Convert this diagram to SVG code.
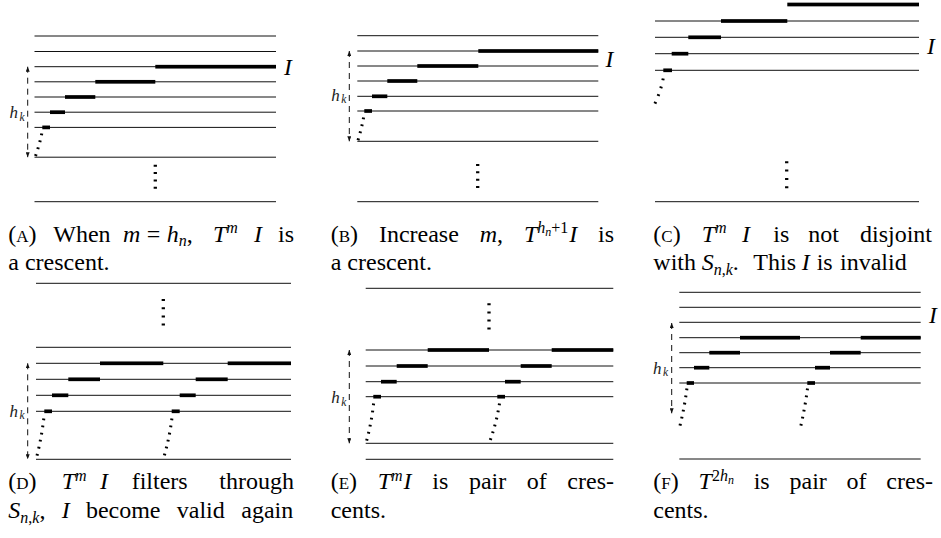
<svg xmlns="http://www.w3.org/2000/svg" width="941" height="538" viewBox="0 0 941 538" font-family="serif">
<defs>
<marker id="ah" viewBox="0 0 5 4" refX="5" refY="2" markerWidth="5" markerHeight="4" markerUnits="userSpaceOnUse" orient="auto-start-reverse">
<path d="M0,0 L5,2 L0,4 z" fill="#111"/>
</marker>
</defs>
<rect width="941" height="538" fill="#fff"/>

<g id="panel-a">
<g stroke="#111" stroke-width="1" fill="none">
<path d="M34.5,36H276M34.5,51.5H276M34.5,66.7H276M34.5,81.8H276M34.5,97H276M34.5,112.2H276M34.5,127.4H276M34.5,157.2H276M34.5,201.7H276"/>
</g>
<g fill="#000">
<rect x="155.3" y="64.85" width="120.7" height="3.7"/>
<rect x="95.3" y="79.95" width="60" height="3.7"/>
<rect x="65" y="95.15" width="30.3" height="3.7"/>
<rect x="50" y="110.35" width="15" height="3.7"/>
<rect x="42.3" y="125.55" width="7.7" height="3.7"/>
</g>
<path d="M155.3,164.7V189" stroke="#000" stroke-width="3.3" fill="none" stroke-dasharray="2 5.35"/>
<text font-family="serif" font-style="italic" fill="#222" y="118"><tspan font-size="17" x="9.5">h</tspan><tspan font-size="11.5" x="19.5" dy="2.5">k</tspan></text>
<text font-family="serif" font-style="italic" font-size="23.5" x="284" y="75">I</text>
</g>

<g id="panel-b">
<g stroke="#111" stroke-width="1" fill="none">
<path d="M357.3,35.7H598.3M357.3,51H598.3M357.3,66H598.3M357.3,81H598.3M357.3,96.3H598.3M357.3,111H598.3M357.3,141.3H598.3M357.3,201.7H598.3"/>
</g>
<g fill="#000">
<rect x="478.3" y="49.15" width="120" height="3.7"/>
<rect x="417.3" y="64.15" width="61" height="3.7"/>
<rect x="387.3" y="79.15" width="30" height="3.7"/>
<rect x="372" y="94.45" width="15.3" height="3.7"/>
<rect x="364.3" y="109.15" width="7.7" height="3.7"/>
</g>
<path d="M477.7,164V189" stroke="#000" stroke-width="3.3" fill="none" stroke-dasharray="2 5.35"/>
<text font-family="serif" font-style="italic" fill="#222" y="100.8"><tspan font-size="17" x="331.3">h</tspan><tspan font-size="11.5" x="341.3" dy="2.5">k</tspan></text>
<text font-family="serif" font-style="italic" font-size="23.5" x="605.5" y="66.7">I</text>
</g>

<g id="panel-c">
<g stroke="#111" stroke-width="1" fill="none">
<path d="M655,21H919M655,37.3H919M655,53.7H919M655,70.3H919M655,201.7H919"/>
</g>
<g fill="#000">
<rect x="787.3" y="2.65" width="131.7" height="3.7"/>
<rect x="721" y="19.15" width="66.3" height="3.7"/>
<rect x="688.3" y="35.45" width="32.7" height="3.7"/>
<rect x="671.7" y="51.85" width="16.6" height="3.7"/>
<rect x="663.3" y="68.45" width="8.7" height="3.7"/>
</g>
<path d="M786.7,161.3V188.5" stroke="#000" stroke-width="3.3" fill="none" stroke-dasharray="2 6.3"/>
<text font-family="serif" font-style="italic" font-size="23.5" x="927" y="54">I</text>
</g>

<g id="panel-d">
<g stroke="#111" stroke-width="1" fill="none">
<path d="M36,283.3H291M36,347.3H291M36,363.3H291M36,379.3H291M36,395.3H291M36,411.3H291M36,459.3H291"/>
</g>
<g fill="#000">
<rect x="100" y="361.45" width="63.3" height="3.7"/>
<rect x="227.7" y="361.45" width="63.3" height="3.7"/>
<rect x="68.3" y="377.45" width="31.7" height="3.7"/>
<rect x="195.7" y="377.45" width="32" height="3.7"/>
<rect x="52" y="393.45" width="16.3" height="3.7"/>
<rect x="179.7" y="393.45" width="16" height="3.7"/>
<rect x="44.3" y="409.45" width="7.7" height="3.7"/>
<rect x="171.7" y="409.45" width="8" height="3.7"/>
</g>
<path d="M163.3,299V326" stroke="#000" stroke-width="3.3" fill="none" stroke-dasharray="2 6.2"/>
<text font-family="Times New Roman" font-style="italic" fill="#222" y="416.5"><tspan font-size="17" x="9.5">h</tspan><tspan font-size="11.5" x="19.5" dy="2.5">k</tspan></text>
</g>

<g id="panel-e">
<g stroke="#111" stroke-width="1" fill="none">
<path d="M365.7,288.3H613.3M365.7,350H613.3M365.7,366H613.3M365.7,381.7H613.3M365.7,396.7H613.3M365.7,443.3H613.3M365.7,459.3H613.3"/>
</g>
<g fill="#000">
<rect x="427.7" y="348.15" width="61.3" height="3.7"/>
<rect x="551.7" y="348.15" width="61.6" height="3.7"/>
<rect x="396.7" y="364.15" width="31" height="3.7"/>
<rect x="520.7" y="364.15" width="31" height="3.7"/>
<rect x="381" y="379.85" width="15.7" height="3.7"/>
<rect x="505" y="379.85" width="15.7" height="3.7"/>
<rect x="373.3" y="394.85" width="7.7" height="3.7"/>
<rect x="497.3" y="394.85" width="7.7" height="3.7"/>
</g>
<path d="M489,303.3V330" stroke="#000" stroke-width="3.3" fill="none" stroke-dasharray="2 6.1"/>
<text font-family="Times New Roman" font-style="italic" fill="#222" y="403.3"><tspan font-size="17" x="331.3">h</tspan><tspan font-size="11.5" x="341.3" dy="2.5">k</tspan></text>
</g>

<g id="panel-f">
<g stroke="#111" stroke-width="1" fill="none">
<path d="M679.3,292.3H920.7M679.3,307.3H920.7M679.3,322.3H920.7M679.3,337.7H920.7M679.3,352.7H920.7M679.3,367.7H920.7M679.3,383H920.7M679.3,459H920.7"/>
</g>
<g fill="#000">
<rect x="740" y="335.85" width="60" height="3.7"/>
<rect x="860.7" y="335.85" width="60" height="3.7"/>
<rect x="709.3" y="350.85" width="30.7" height="3.7"/>
<rect x="830" y="350.85" width="30.7" height="3.7"/>
<rect x="694" y="365.85" width="15.3" height="3.7"/>
<rect x="815" y="365.85" width="15" height="3.7"/>
<rect x="686.7" y="381.15" width="7.3" height="3.7"/>
<rect x="807.3" y="381.15" width="7.7" height="3.7"/>
</g>
<text font-family="Times New Roman" font-style="italic" fill="#222" y="373.5"><tspan font-size="17" x="653">h</tspan><tspan font-size="11.5" x="663" dy="2.5">k</tspan></text>
<text font-family="Times New Roman" font-style="italic" font-size="23.5" x="929" y="322.5">I</text>
</g>

<g id="connectors">
<g stroke="#111" stroke-width="1" fill="none" stroke-dasharray="6 5" marker-start="url(#ah)" marker-end="url(#ah)">
<path d="M27.7,66.7V157.2"/>
<path d="M349.3,51V141.3"/>
<path d="M27.7,363.3V459.3"/>
<path d="M349.3,350V443.3"/>
<path d="M671.7,323V413.3"/>
</g>
<g stroke="#000" stroke-width="3" fill="none" stroke-dasharray="1.8 5.4">
<path d="M41.8,133.5Q39.5,145 35,157.5"/>
<path d="M363.6,117.5Q361.5,129 357.8,140.8"/>
<path d="M663.2,78.5Q660.5,92 654.5,104.5" stroke-dasharray="1.8 6.4"/>
<path d="M43.8,418.5Q41.5,438 36.3,458.5"/>
<path d="M171.9,418.5Q169.5,438 163.5,458.5"/>
<path d="M373.6,403.5Q371.5,423 366,443"/>
<path d="M499.5,403.5Q496.5,423 489.3,443"/>
<path d="M686.9,388.5Q684.5,408 679,429.5"/>
<path d="M807.5,388.5Q805,408 800,429.5"/>
</g>
</g>

<g id="captions" fill="#000">
<text font-family="serif" font-size="24" y="241.7"><tspan x="8.3">(<tspan font-size="17">A</tspan>)</tspan><tspan x="53.3">When</tspan><tspan x="123" font-style="italic">m</tspan><tspan x="146.7">=</tspan><tspan x="166.7" font-style="italic">h</tspan><tspan font-size="16" font-style="italic" dy="4">n</tspan><tspan dy="-4">,</tspan><tspan x="213" font-style="italic">T</tspan><tspan font-size="16" font-style="italic" dy="-8.5">m</tspan><tspan x="254" font-style="italic" dy="8.5">I</tspan></text>
<text font-family="serif" font-size="24" x="294" y="241.7" text-anchor="end">is</text>
<text font-family="serif" font-size="24" x="8.3" y="270">a crescent.</text>

<text font-family="serif" font-size="24" y="241.7"><tspan x="330.7">(<tspan font-size="17">B</tspan>)</tspan><tspan x="378.9">Increase</tspan><tspan x="479.7" font-style="italic">m</tspan><tspan>,</tspan><tspan x="523.9" font-style="italic">T</tspan><tspan font-size="16" font-style="italic" dy="-8.5">h</tspan><tspan font-size="12" font-style="italic" dy="3">n</tspan><tspan font-size="16" dy="-3">+1</tspan><tspan x="569.2" font-style="italic" dy="8.5">I</tspan></text>
<text font-family="serif" font-size="24" x="614" y="241.7" text-anchor="end">is</text>
<text font-family="serif" font-size="24" x="330.7" y="270">a crescent.</text>

<text font-family="serif" font-size="24" y="241.7"><tspan x="653.3">(<tspan font-size="17">C</tspan>)</tspan><tspan x="701.7" font-style="italic">T</tspan><tspan font-size="16" font-style="italic" dy="-8.5">m</tspan><tspan x="742" font-style="italic" dy="8.5">I</tspan><tspan x="773.3">is</tspan><tspan x="808.3">not</tspan></text>
<text font-family="serif" font-size="24" x="932" y="241.7" text-anchor="end">disjoint</text>
<text font-family="serif" font-size="24" y="270"><tspan x="653.3">with</tspan><tspan x="701.7" font-style="italic">S</tspan><tspan font-size="16" font-style="italic" dy="5">n</tspan><tspan font-size="16">,</tspan><tspan font-size="16" font-style="italic">k</tspan><tspan dy="-5">.</tspan><tspan x="753.3">This</tspan><tspan x="801.7" font-style="italic">I</tspan><tspan x="816.7">is</tspan><tspan x="840">invalid</tspan></text>

<text font-family="Times New Roman" font-size="24" y="489.3"><tspan x="8.3">(<tspan font-size="17">D</tspan>)</tspan><tspan x="61.7" font-style="italic">T</tspan><tspan font-size="16" font-style="italic" dy="-8.5">m</tspan><tspan x="100" font-style="italic" dy="8.5">I</tspan><tspan x="131.7">filters</tspan></text>
<text font-family="Times New Roman" font-size="24" x="294" y="489.3" text-anchor="end">through</text>
<text font-family="Times New Roman" font-size="24" y="518.3"><tspan x="8.3" font-style="italic">S</tspan><tspan font-size="16" font-style="italic" dy="5">n</tspan><tspan font-size="16">,</tspan><tspan font-size="16" font-style="italic">k</tspan><tspan dy="-5">,</tspan><tspan x="61.7" font-style="italic">I</tspan><tspan x="85.9">become</tspan><tspan x="176.8">valid</tspan></text>
<text font-family="Times New Roman" font-size="24" x="293.3" y="518.3" text-anchor="end">again</text>

<text font-family="Times New Roman" font-size="24" y="489.3"><tspan x="330.7">(<tspan font-size="17">E</tspan>)</tspan><tspan x="377.7" font-style="italic">T</tspan><tspan font-size="16" font-style="italic" dy="-8.5">m</tspan><tspan x="403.6" font-style="italic" dy="8.5">I</tspan><tspan x="432.3">is</tspan><tspan x="468.9">pair</tspan><tspan x="526.8">of</tspan></text>
<text font-family="Times New Roman" font-size="24" x="614" y="489.3" text-anchor="end">cres-</text>
<text font-family="Times New Roman" font-size="24" x="330.7" y="518.3">cents.</text>

<text font-family="Times New Roman" font-size="24" y="489.3"><tspan x="653.3">(<tspan font-size="17">F</tspan>)</tspan><tspan x="698.6" font-style="italic">T</tspan><tspan font-size="16" dy="-8.5">2</tspan><tspan font-size="16" font-style="italic">h</tspan><tspan font-size="12" font-style="italic" dy="3">n</tspan><tspan x="753.7" dy="5.5">is</tspan><tspan x="789.5">pair</tspan><tspan x="846.6">of</tspan></text>
<text font-family="Times New Roman" font-size="24" x="933" y="489.3" text-anchor="end">cres-</text>
<text font-family="Times New Roman" font-size="24" x="653.3" y="518.3">cents.</text>
</g>
</svg>
